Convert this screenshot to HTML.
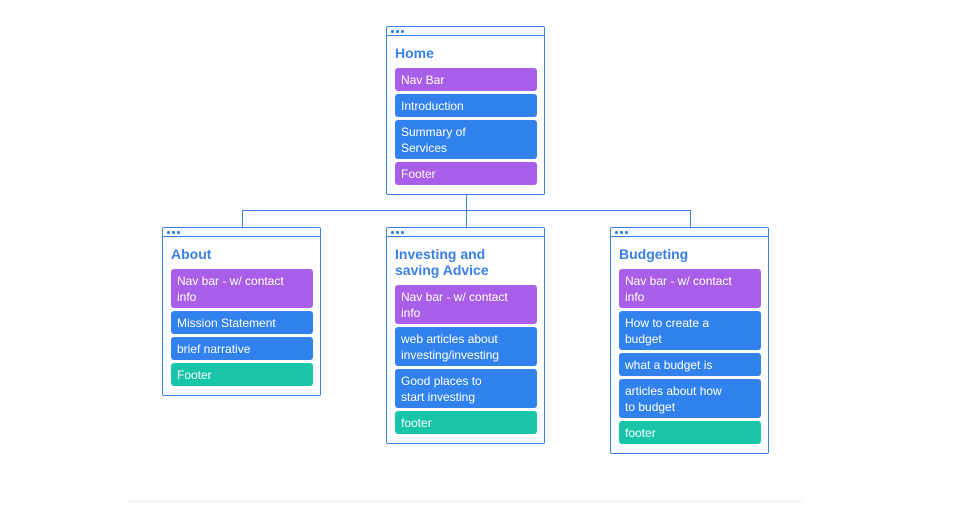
<!DOCTYPE html>
<html><head><meta charset="utf-8"><style>
body{margin:0;width:979px;height:514px;background:#fff;position:relative;overflow:hidden;font-family:"Liberation Sans",sans-serif}
.box{position:absolute;width:157px;border:1px solid #3a80e6;border-radius:2px;background:#fff}
.bar{height:8px;border-bottom:1px solid #3a80e6;position:relative}
.bar i{position:absolute;top:3px;width:3px;height:3px;background:#3a80e6;border-radius:1px}
.t{position:absolute;left:8px;color:#3a80e6;font-weight:bold;font-size:14px;line-height:16px}
.c{position:absolute;left:8px;width:142px;padding:0 6px;box-sizing:border-box;border-radius:3px;color:#fff;font-size:12px;line-height:16px;padding-top:4px}
.p{background:#a95ee8}.b{background:#3182ed}.g{background:#19c5a9}
.l{position:absolute;background:#3a80e6}
</style></head><body>
<div class="l" style="left:466px;top:194px;width:1px;height:16px"></div>
<div class="l" style="left:242px;top:210px;width:449px;height:1px"></div>
<div class="l" style="left:242px;top:210px;width:1px;height:17px"></div>
<div class="l" style="left:466px;top:210px;width:1px;height:17px"></div>
<div class="l" style="left:690px;top:210px;width:1px;height:17px"></div>

<div class="box" style="left:386px;top:26px;height:167px">
<div class="bar"><i style="left:4px"></i><i style="left:9px"></i><i style="left:14px"></i></div>
<div class="t" style="top:18px">Home</div>
<div class="c p" style="top:41px;height:23px">Nav Bar</div>
<div class="c b" style="top:67px;height:23px">Introduction</div>
<div class="c b" style="top:93px;height:39px">Summary of<br>Services</div>
<div class="c p" style="top:135px;height:23px">Footer</div>
</div>

<div class="box" style="left:162px;top:227px;height:167px">
<div class="bar"><i style="left:4px"></i><i style="left:9px"></i><i style="left:14px"></i></div>
<div class="t" style="top:18px">About</div>
<div class="c p" style="top:41px;height:39px">Nav bar - w/ contact<br>info</div>
<div class="c b" style="top:83px;height:23px">Mission Statement</div>
<div class="c b" style="top:109px;height:23px">brief narrative</div>
<div class="c g" style="top:135px;height:23px">Footer</div>
</div>

<div class="box" style="left:386px;top:227px;height:215px">
<div class="bar"><i style="left:4px"></i><i style="left:9px"></i><i style="left:14px"></i></div>
<div class="t" style="top:18px">Investing and<br>saving Advice</div>
<div class="c p" style="top:57px;height:39px">Nav bar - w/ contact<br>info</div>
<div class="c b" style="top:99px;height:39px">web articles about<br>investing/investing</div>
<div class="c b" style="top:141px;height:39px">Good places to<br>start investing</div>
<div class="c g" style="top:183px;height:23px">footer</div>
</div>

<div class="box" style="left:610px;top:227px;height:225px">
<div class="bar"><i style="left:4px"></i><i style="left:9px"></i><i style="left:14px"></i></div>
<div class="t" style="top:18px">Budgeting</div>
<div class="c p" style="top:41px;height:39px">Nav bar - w/ contact<br>info</div>
<div class="c b" style="top:83px;height:39px">How to create a<br>budget</div>
<div class="c b" style="top:125px;height:23px">what a budget is</div>
<div class="c b" style="top:151px;height:39px">articles about how<br>to budget</div>
<div class="c g" style="top:193px;height:23px">footer</div>
</div>

<div style="position:absolute;left:128px;top:501px;width:674px;height:1px;background:#e6ebf3"></div>
</body></html>
